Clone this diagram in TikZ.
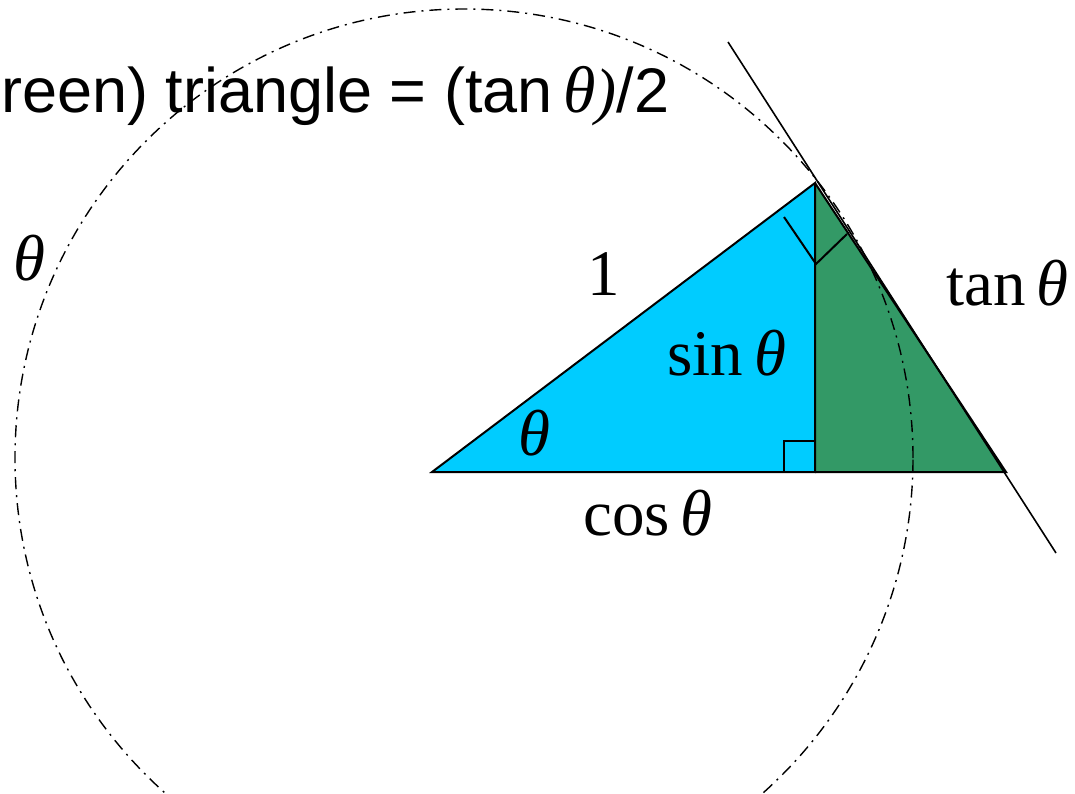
\documentclass[tikz,border=0pt]{standalone}
\usepackage{fontspec}
\setmainfont{Liberation Serif}
\setsansfont{Liberation Sans}
\newcommand{\angth}{{\rmfamily\itshape θ}}

\begin{document}
\begin{tikzpicture}[x=0.5pt, y=-0.5pt,
        lbl/.style={anchor=base west, inner sep=0pt, font=\fontsize{32.5}{38}\selectfont},
        ttl/.style={anchor=base west, inner sep=0pt, font=\fontsize{31.5}{38}\selectfont\sffamily},
        rim/.style={line width=0.7pt, dash pattern=on 6pt off 3pt on 1pt off 3pt},
        side/.style={line width=1pt},
        rightmark/.style={line width=1pt},
        tangent/.style={line width=0.8pt}
    ]
        \definecolor{skyfill}{RGB}{0,204,255}
        \definecolor{seafill}{RGB}{51,153,102}
        \useasboundingbox (0,0) rectangle (1075,793);
        \clip (0,0) rectangle (1075,793);

        % --- corner points ---
        \coordinate (O) at (432,472);
        \coordinate (P) at (815,183);
        \coordinate (F) at (815,472);
        \coordinate (T) at (1006,472);
        \coordinate (C) at (464,458);

        % --- triangles ---
        \fill[skyfill] (O) -- (P) -- (F) -- cycle;
        \fill[seafill] (P) -- (T) -- (F) -- cycle;

        % --- unit circle ---
        \draw[rim] (C) circle[radius=224.5pt];

        \draw[side] (O) -- (P) -- (F) -- cycle;
        \draw[side] (P) -- (T) -- (F);

        % --- right angle marks ---
        \draw[rightmark] (784,217) -- (816,264) -- (847,234);
        \draw[rightmark] (784,472) -- (784,441) -- (816,441);

        % --- tangent line ---
        \coordinate (tA) at (728,42);
        \coordinate (tB) at (1056,553);
        \draw[tangent] (tA) -- (tB);

        % --- labels ---
        \node[ttl] (title) at (1,112) {reen) triangle = (tan\,{\fontsize{33}{38}\selectfont\angth}{\rmfamily\itshape )}/2};
        \node[lbl] (thL) at (13,280) {\angth};
        \node[lbl] (one) at (587,295) {1};
        \node[lbl] (sinL) at (667,375) {sin\,\angth};
        \node[lbl] (thA) at (518,455) {\angth};
        \node[lbl] (cosL) at (583,535) {cos\,\angth};
        \node[lbl] (tanL) at (946,305) {tan\,\angth};
    \end{tikzpicture}
\end{document}
